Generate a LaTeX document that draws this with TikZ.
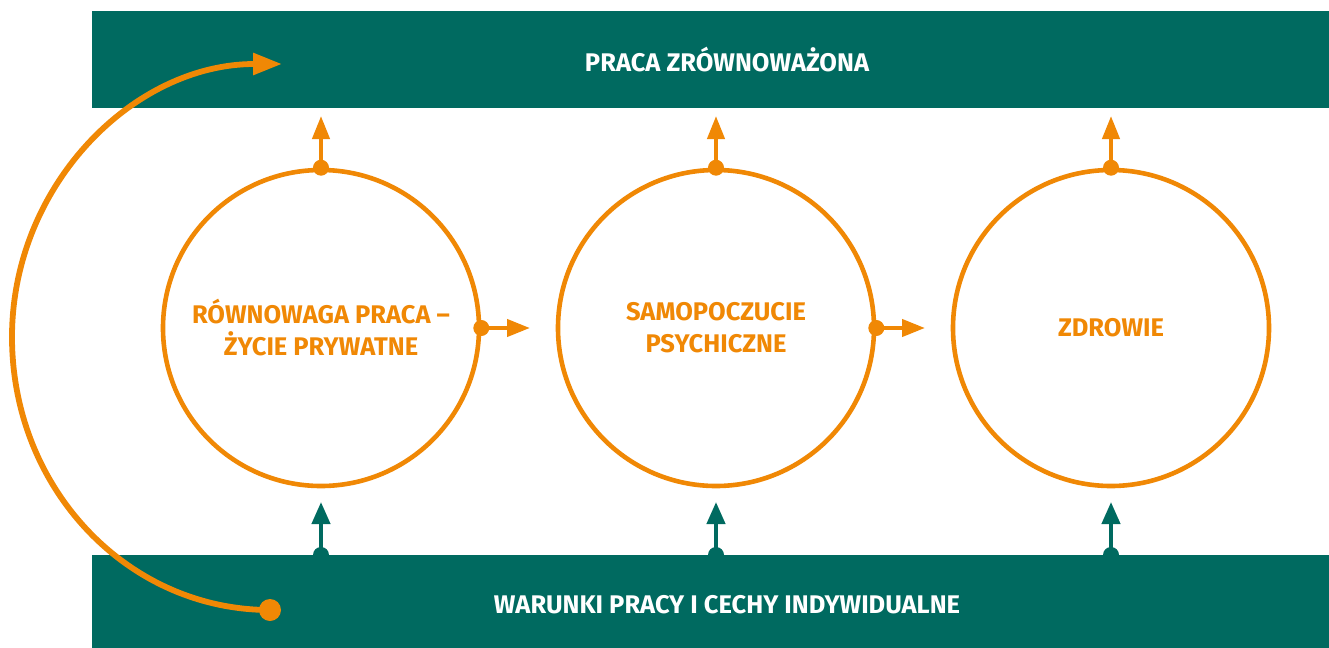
\documentclass[tikz,border=0pt]{standalone}
\usepackage{fontspec}
\setmainfont{Fira Sans}
\usetikzlibrary{arrows.meta}
\definecolor{teal}{RGB}{0,106,96}
\definecolor{orng}{RGB}{240,136,5}
\begin{document}
\begin{tikzpicture}[x=0.5pt,y=-0.5pt,
  bar/.style={fill=teal,draw=none,minimum width=618.5pt,anchor=north west,inner sep=0pt},
  bartext/.style={text=white,font=\bfseries\fontsize{12.75}{15}\selectfont},
  ring/.style={circle,draw=orng,line width=2.3pt,fill=white,minimum size=158pt,inner sep=0pt,
     text=orng,font=\bfseries\fontsize{12.75}{16}\selectfont,align=center},
  oarrow/.style={draw=orng,line width=2.1pt,-{Triangle[length=11.5pt,width=8.5pt]}},
  tarrow/.style={draw=teal,line width=2.1pt,-{Triangle[length=11pt,width=9pt]}},
  odot/.style={fill=orng,draw=none},
  tdot/.style={fill=teal,draw=none}]
\useasboundingbox (0,0) rectangle (1329,648);
\node[bar,minimum height=48.5pt] (top) at (92,11) {};
\node[bar,minimum height=46.5pt] (bot) at (92,555) {};
\node[bartext] (toptext) at (727,60) {PRACA ZRÓWNOWAŻONA};
\node[bartext] (bottext) at (727,605) {WARUNKI PRACY I CECHY INDYWIDUALNE};
\node[ring] (c1) at (321,328) {RÓWNOWAGA PRACA –\\ŻYCIE PRYWATNE};
\node[ring] (c2) at (716,328) {SAMOPOCZUCIE\\PSYCHICZNE};
\node[ring] (c3) at (1111,328) {ZDROWIE};
% top arrows
\foreach \c/\x in {c1/321,c2/716,c3/1111}{
  \coordinate (\c up) at (\x,116);
  \draw[oarrow] (\c.north) -- (\c up);
  \fill[odot] (\c.north) circle[radius=8];
  \coordinate (\c low) at (\x,502);
  \coordinate (\c base) at (\x,555);
  \draw[tarrow] (\c base) -- (\c low);
  \fill[tdot] (\c base) circle[radius=8];
}
% right arrows
\coordinate (r1) at (530,328);
\coordinate (r2) at (925,328);
\draw[oarrow] (c1.east) -- (r1);
\fill[odot] (c1.east) circle[radius=8];
\draw[oarrow] (c2.east) -- (r2);
\fill[odot] (c2.east) circle[radius=8];
% big loop
\coordinate (ls) at (270,610);
\coordinate (lm) at (12,337);
\coordinate (le) at (282,64);
\draw[draw=orng,line width=2.9pt,-{Triangle[length=14.5pt,width=10.5pt]}]
  (ls) .. controls (127,610) and (12,488) .. (lm)
       .. controls (12,186) and (133,64) .. (le);
\fill[odot] (ls) circle[radius=11];
\end{tikzpicture}
\end{document}
